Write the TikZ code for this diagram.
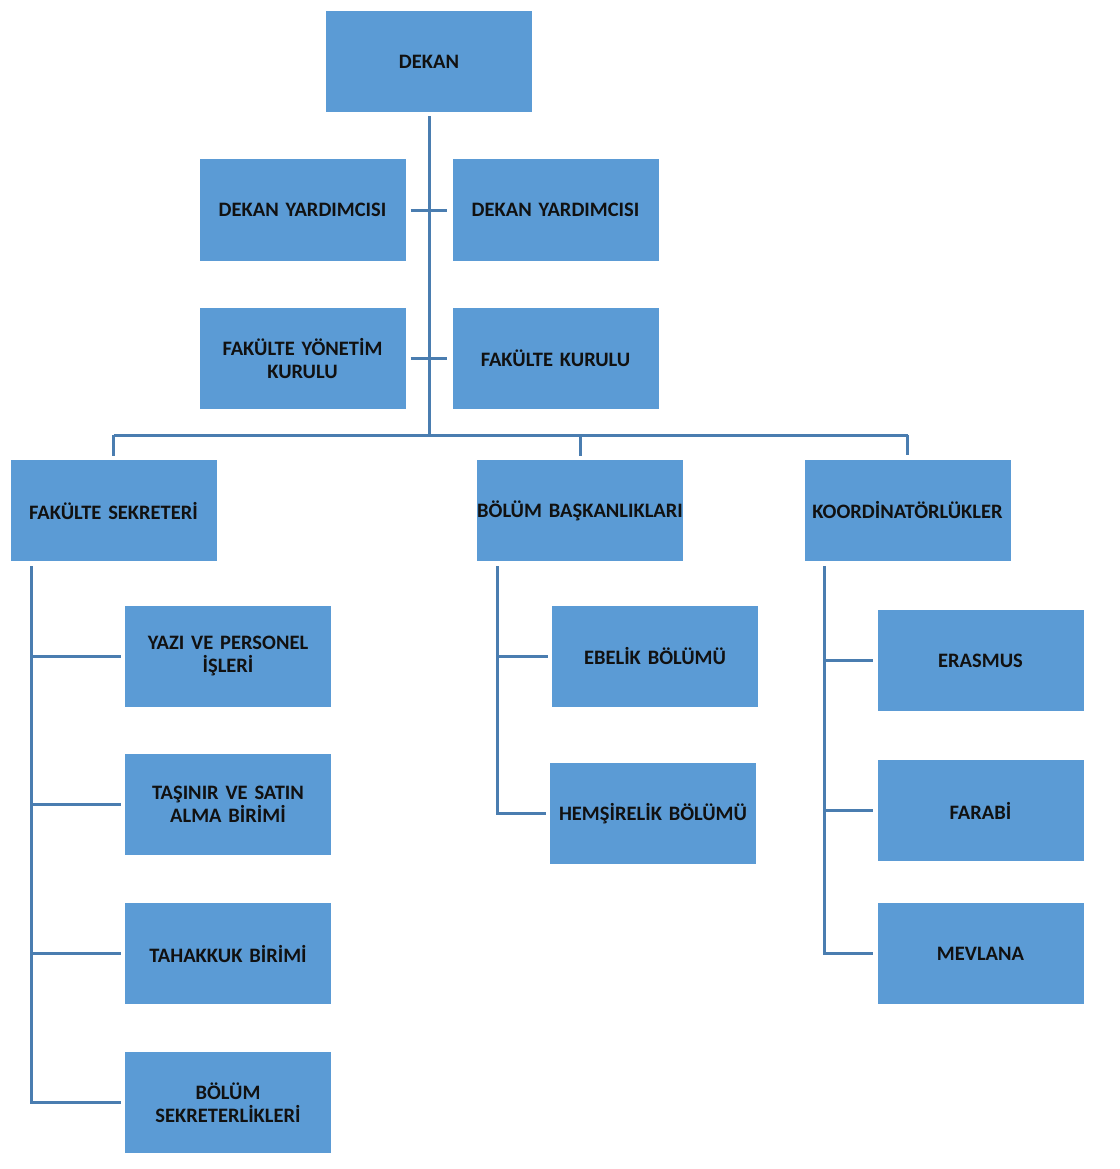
\documentclass[tikz,border=0pt]{standalone}
\usepackage{fontspec}
\setmainfont{Carlito}
\definecolor{boxblue}{HTML}{5B9BD5}
\definecolor{lineblue}{HTML}{4A7DB0}
\definecolor{txt}{HTML}{111111}
\begin{document}
\begin{tikzpicture}[x=1pt,y=-1pt,
  box/.style={fill=boxblue, draw=none, minimum width=206pt, minimum height=101pt, inner sep=0pt,
    text width=206pt, align=center, text=txt, font=\fontsize{20.5}{23.5}\selectfont\bfseries},
  conn/.style={draw=lineblue, line width=3pt}]
\useasboundingbox (0,0) rectangle (1119,1169);
% top
\node[box] (dekan) at (429,61.5) {DEKAN};
\node[box] (dy1) at (302.5,210) {DEKAN YARDIMCISI};
\node[box] (dy2) at (555.5,210) {DEKAN YARDIMCISI};
\node[box] (fyk) at (302.5,358.5) {FAKÜLTE YÖNETİM\\KURULU};
\node[box] (fk) at (555.5,358.5) {FAKÜLTE KURULU};
% level 2
\node[box] (fs) at (113.5,510.5) {FAKÜLTE SEKRETERİ};
\node[box] (bb) at (580,510.5) {\makebox[0pt]{BÖLÜM BAŞKANLIKLARI}};
\node[box] (ko) at (907.5,510) {KOORDİNATÖRLÜKLER};
% FS children
\node[box] (yvp) at (228,656) {YAZI VE PERSONEL\\İŞLERİ};
\node[box] (tsa) at (228,804.5) {TAŞINIR VE SATIN\\ALMA BİRİMİ};
\node[box] (tb) at (228,953.5) {TAHAKKUK BİRİMİ};
\node[box] (bs) at (228,1102.5) {BÖLÜM\\SEKRETERLİKLERİ};
% BB children
\node[box] (eb) at (655,656) {EBELİK BÖLÜMÜ};
\node[box] (hb) at (653,813.5) {HEMŞİRELİK BÖLÜMÜ};
% KO children
\node[box] (er) at (980.5,660.5) {ERASMUS};
\node[box] (fa) at (980.5,810.5) {FARABİ};
\node[box] (mv) at (980.5,953.5) {MEVLANA};
% connectors
\coordinate (bar) at (429,435);
\coordinate (fsv) at (31,566);
\coordinate (bbv) at (497,566);
\coordinate (kov) at (824,566);
\draw[conn, shorten <=4pt] (dekan.south) -- (bar);
\draw[conn, shorten <=5pt, shorten >=5pt] (dy1.east) -- (dy2.west);
\draw[conn, shorten <=5pt, shorten >=5pt] (fyk.east) -- (fk.west);
\draw[conn] (fs |- bar) -- (ko |- bar);
\draw[conn, shorten >=4pt] (fs |- bar) -- (fs.north);
\draw[conn, shorten >=4pt] (bb |- bar) -- (bb.north);
\draw[conn, shorten >=4pt] (ko |- bar) -- (ko.north);
% FS branch
\draw[conn, shorten >=4pt] (fsv) -- (fsv |- bs) -- (bs.west);
\draw[conn, shorten >=4pt] (fsv |- yvp) -- (yvp.west);
\draw[conn, shorten >=4pt] (fsv |- tsa) -- (tsa.west);
\draw[conn, shorten >=4pt] (fsv |- tb) -- (tb.west);
% BB branch
\draw[conn, shorten >=4pt] (bbv) -- (bbv |- hb) -- (hb.west);
\draw[conn, shorten >=4pt] (bbv |- eb) -- (eb.west);
% KO branch
\draw[conn, shorten >=4pt] (kov) -- (kov |- mv) -- (mv.west);
\draw[conn, shorten >=4pt] (kov |- er) -- (er.west);
\draw[conn, shorten >=4pt] (kov |- fa) -- (fa.west);
\end{tikzpicture}
\end{document}
